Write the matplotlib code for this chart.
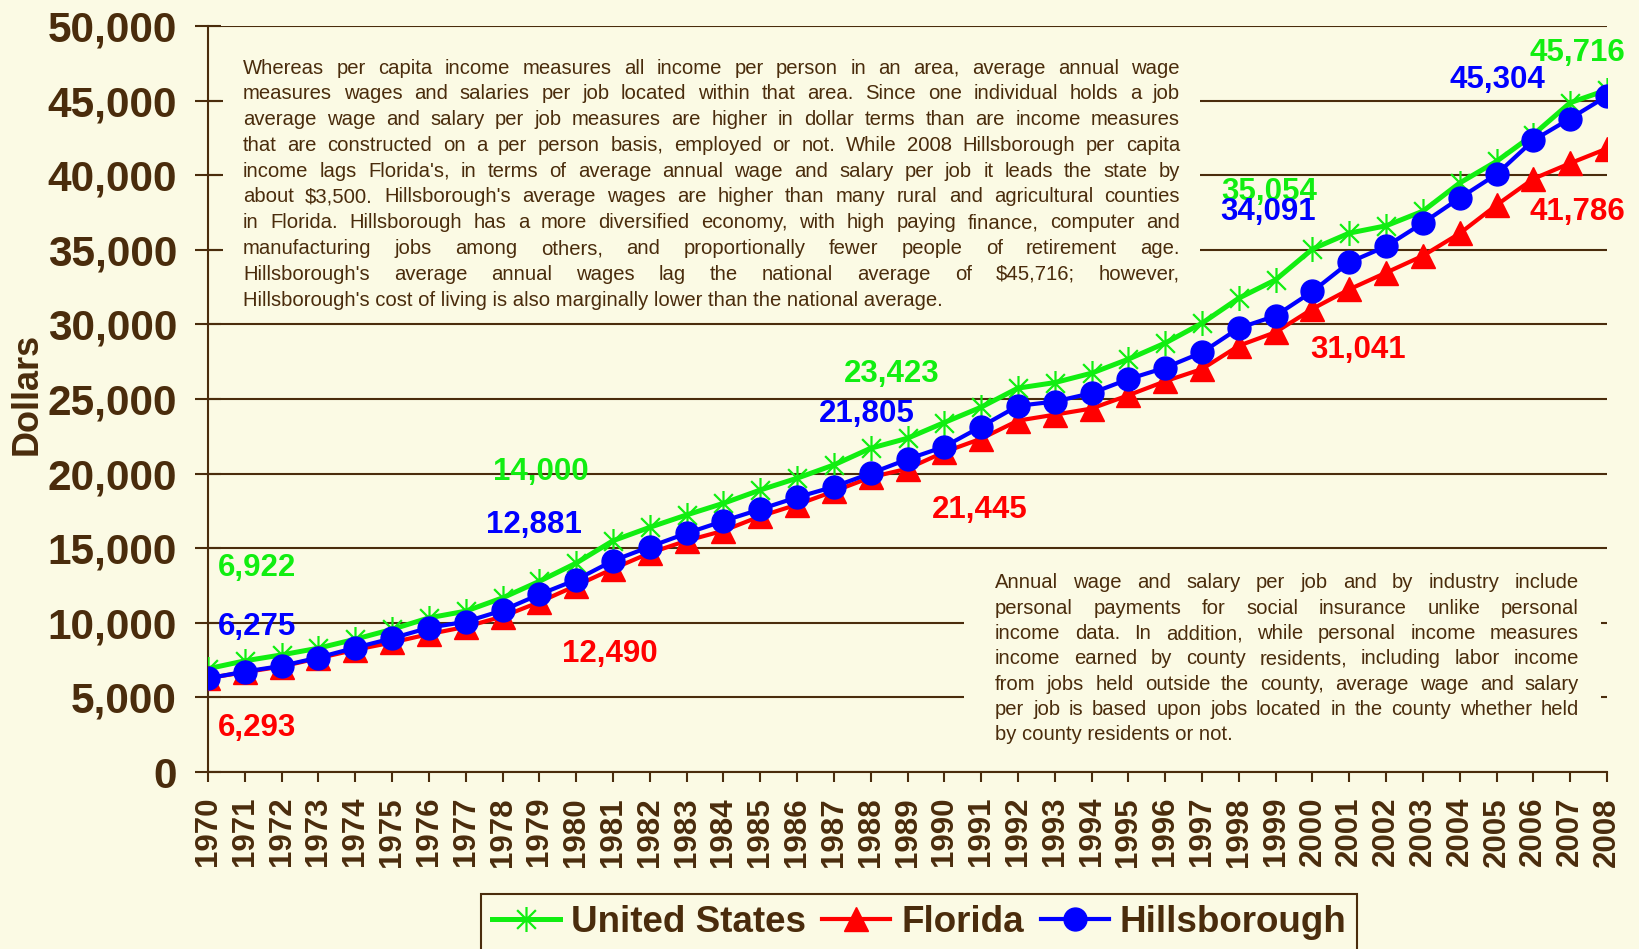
import matplotlib
matplotlib.use("Agg")
import matplotlib.pyplot as plt
from matplotlib.patches import Rectangle
from matplotlib.path import Path

plt.rcParams['font.family'] = ['Liberation Sans', 'DejaVu Sans']
plt.rcParams['text.parse_math'] = False

# data
years = list(range(1970, 2009))
us = [6922, 7450, 7850, 8300, 8900, 9560, 10330, 10780, 11670, 12780,
      14000, 15500, 16400, 17230, 18010, 18900, 19690, 20580, 21700, 22370,
      23423, 24450, 25730, 26100, 26730, 27670, 28750, 30080, 31760, 32990,
      35054, 36120, 36610, 37590, 39480, 40930, 42720, 44860, 45716]
florida = [6293, 6690, 7070, 7630, 8190, 8680, 9240, 9730, 10420, 11390,
           12490, 13620, 14680, 15500, 16170, 17140, 17920, 18810, 19750, 20330,
           21445, 22340, 23550, 23950, 24360, 25250, 26190, 27010, 28570, 29480,
           31041, 32350, 33470, 34600, 36100, 38000, 39760, 40800, 41786]
hills = [6275, 6730, 7110, 7670, 8330, 8960, 9670, 10070, 10830, 11900,
         12881, 14160, 15100, 16000, 16820, 17610, 18410, 19120, 20020, 20960,
         21805, 23150, 24540, 24830, 25390, 26330, 27100, 28120, 29750, 30580,
         32210, 34160, 35230, 36800, 38470, 40060, 42340, 43800, 45304]

# value labels: (text, year, y, colour)
green, red, blue = '#11ee11', '#ff0000', '#0000ff'
labels = [
    ('6,922', 1970.26, 13680, green), ('6,275', 1970.26, 9690, blue), ('6,293', 1970.26, 2950, red),
    ('14,000', 1977.73, 20140, green), ('12,881', 1977.56, 16560, blue), ('12,490', 1979.61, 7935, red),
    ('23,423', 1987.28, 26670, green), ('21,805', 1986.58, 24000, blue), ('21,445', 1989.67, 17550, red),
    ('35,054', 1997.52, 38870, green), ('34,091', 1997.49, 37540, blue), ('31,041', 1999.93, 28280, red),
    ('45,716', 2005.9, 48200, green), ('45,304', 2003.71, 46380, blue), ('41,786', 2005.9, 37540, red),
]

note1 = [
    "Whereas per capita income measures all income per person in an area, average annual wage",
    "measures wages and salaries per job located within that area.  Since one individual holds a job",
    "average wage and salary per job measures are higher in dollar terms than are income measures",
    "that are constructed on a per person basis, employed or not.  While 2008 Hillsborough per capita",
    "income lags Florida's, in terms of average annual wage and salary per job it leads the state by",
    "about $3,500.  Hillsborough's average wages are higher than many rural and agricultural counties",
    "in Florida.  Hillsborough has a more diversified economy, with high paying finance, computer and",
    "manufacturing jobs among others, and proportionally fewer people of retirement age.",
    "Hillsborough's average annual wages lag the national average of $45,716; however,",
    "Hillsborough's cost of living is also marginally lower than the national average.",
]
note2 = [
    "Annual wage and salary per job and by industry include",
    "personal payments for social insurance unlike personal",
    "income data.  In addition, while personal income measures",
    "income earned by county residents, including labor income",
    "from jobs held outside the county, average wage and salary",
    "per job is based upon jobs located in the county whether held",
    "by county residents or not.",
]

bg = '#fbfae4'
brown = '#4a2c0c'
W, H = 1640, 949

fig = plt.figure(figsize=(16.4, 9.49), dpi=100, facecolor=bg)
ax = fig.add_axes([208 / W, 1 - 772 / H, (1607 - 208) / W, (772 - 26) / H])
ax.set_facecolor(bg)

star = Path([(-0.75, -0.75), (0.75, 0.75), (-0.75, 0.75), (0.75, -0.75), (0, -1), (0, 1)],
            [Path.MOVETO, Path.LINETO] * 3)

l1, = ax.plot(years, us, color=green, lw=3.6, marker=star, ms=18, mew=1.6,
              mec=green, mfc='none', zorder=3, label='United States')
l2, = ax.plot(years, florida, color=red, lw=3, marker='^', ms=17,
              mec=red, mfc=red, zorder=4, label='Florida')
l3, = ax.plot(years, hills, color=blue, lw=3, marker='o', ms=16.5,
              mec=blue, mfc=blue, zorder=5, label='Hillsborough')

ax.set_xlim(1970, 2008)
ax.set_ylim(0, 50000)
ax.set_xticks(years)
ax.set_xticklabels([str(y) for y in years], rotation=90, fontsize=22.5,
                   fontweight='bold', color=brown)
ax.set_yticks(range(0, 50001, 5000))
ax.set_yticklabels(['{:,}'.format(v) for v in range(0, 50001, 5000)],
                   fontsize=30.5, fontweight='bold', color=brown)
ax.tick_params(axis='y', direction='inout', length=18.7, width=1.5, color=brown, pad=13)
ax.tick_params(axis='x', direction='out', length=7.2, width=1.5, color=brown, pad=10.8)
ax.grid(axis='y', color=brown, lw=1.5)
ax.set_axisbelow(True)
for s in ['top', 'right']:
    ax.spines[s].set_visible(False)
for s in ['left', 'bottom']:
    ax.spines[s].set_color(brown)
    ax.spines[s].set_linewidth(1.5)

fig.text(27 / W, 1 - 394 / H, 'Dollars', rotation=90, ha='center', va='center',
         fontsize=26, fontweight='bold', color=brown)

# opaque note boxes hiding the gridlines
for x0, y0, x1, y1 in [(223, 30, 1200, 318), (964, 558, 1601, 762)]:
    ax.add_patch(Rectangle((x0 / W, 1 - y1 / H), (x1 - x0) / W, (y1 - y0) / H,
                           transform=fig.transFigure, facecolor=bg, edgecolor='none',
                           zorder=1.5, clip_on=False))

for txt, x, y, c in labels:
    ax.text(x, y, txt, color=c, fontsize=22.5, fontweight='bold',
            ha='left', va='center', zorder=6)

body = dict(fontsize=14.6, color=brown, ha='left', va='baseline', zorder=6)
r = fig.canvas.get_renderer()


def justified(lines, x0, x1, base, dy):
    for i, line in enumerate(lines):
        yb = 1 - (base + i * dy) / H
        if i == len(lines) - 1:
            fig.text(x0 / W, yb, line, **body)
            continue
        words = line.split()
        ts = [fig.text(0, yb, w, **body) for w in words]
        ws = [t.get_window_extent(r).width for t in ts]
        gap = (x1 - x0 - sum(ws)) / (len(words) - 1)
        x = x0
        for t, w in zip(ts, ws):
            t.set_x(x / W)
            x += w + gap


justified(note1, 243, 1180, 73.5, 25.8)
justified(note2, 995, 1579, 588.5, 25.3)

leg = ax.legend(handles=[l1, l2, l3], loc='upper center', ncol=3,
                bbox_to_anchor=(919 / W, 1 - 894 / H), bbox_transform=fig.transFigure,
                prop={'size': 26.5, 'weight': 'bold'}, handlelength=1.85,
                handletextpad=0.3, columnspacing=0.45, borderpad=0.3,
                borderaxespad=0, fancybox=False, facecolor=bg, edgecolor=brown,
                framealpha=1)
leg.get_frame().set_linewidth(1.5)
for t in leg.get_texts():
    t.set_color(brown)

fig.savefig('out.png', dpi=100, facecolor=bg)
